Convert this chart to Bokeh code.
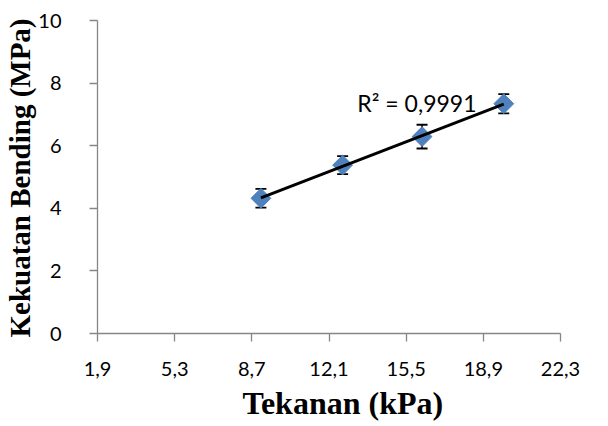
import numpy as np
from bokeh.plotting import figure
from bokeh.models import FixedTicker, Range1d, Whisker, ColumnDataSource, Label, Title
from bokeh.embed import file_html
from bokeh.resources import INLINE

# Measured bending strength vs. pressure
tekanan = [9.1, 12.7, 16.2, 19.8]          # kPa
kekuatan = [4.32, 5.38, 6.29, 7.34]        # MPa
galat = [0.30, 0.29, 0.38, 0.31]           # error bar half-width, MPa

x_ticks = [1.9, 5.3, 8.7, 12.1, 15.5, 18.9, 22.3]
x_tick_labels = ["1,9", "5,3", "8,7", "12,1", "15,5", "18,9", "22,3"]
y_ticks = [0, 2, 4, 6, 8, 10]
r2_label = "R² = 0,9991"
x_title = "Tekanan (kPa)"
y_title = "Kekuatan Bending (MPa)"

p = figure(width=608, height=426, output_backend="svg", toolbar_location=None,
           x_range=Range1d(1.9, 22.3), y_range=Range1d(0, 10),
           min_border_left=97, min_border_right=48, min_border_top=20,
           min_border_bottom=93)
p.outline_line_color = None
p.xgrid.visible = False
p.ygrid.visible = False

tick_font = "Lato"
title_font = "Liberation Serif"
for ax in (p.xaxis[0], p.yaxis[0]):
    ax.axis_line_color = "#868686"
    ax.axis_line_width = 1.3
    ax.major_tick_line_color = "#868686"
    ax.major_tick_line_width = 1.3
    ax.minor_tick_line_color = None
    ax.major_tick_in = 0
    ax.major_tick_out = 8
    ax.major_label_text_font = tick_font
    ax.major_label_text_font_size = "20px"
    ax.major_label_text_color = "black"

p.xaxis.ticker = FixedTicker(ticks=x_ticks)
p.xaxis.major_label_overrides = {t: s for t, s in zip(x_ticks, x_tick_labels)}
p.xaxis.major_label_standoff = 20

p.yaxis.ticker = FixedTicker(ticks=y_ticks)
p.yaxis.major_label_standoff = 28

# Axis titles as side titles, so they can be placed freely along the frame
yt = Title(text=y_title, align="left", offset=-4, standoff=0,
           text_font=title_font, text_font_style="bold",
           text_font_size="29px", text_color="black")
p.add_layout(yt, "left")

xt = Title(text=x_title, align="left", offset=145, standoff=9,
           text_font=title_font, text_font_style="bold",
           text_font_size="32px", text_color="black")
p.add_layout(xt, "below")

# Error bars
src = ColumnDataSource(dict(
    x=tekanan,
    y=kekuatan,
    lo=[v - e for v, e in zip(kekuatan, galat)],
    hi=[v + e for v, e in zip(kekuatan, galat)],
))
wh = Whisker(base="x", lower="lo", upper="hi", source=src,
             line_color="black", line_width=1.5)
for head in (wh.upper_head, wh.lower_head):
    head.size = 11
    head.line_width = 1.8
    head.line_color = "black"
p.add_layout(wh)

# Data markers (diamonds)
p.scatter("x", "y", source=src, marker="square", angle=np.pi / 4, size=14,
          fill_color="#4F81BD", line_color="#4F81BD")

# Linear trendline over the measured range
m, b = np.polyfit(tekanan, kekuatan, 1)
xs = np.array([min(tekanan), max(tekanan)])
p.line(xs, m * xs + b, line_color="black", line_width=3)

p.add_layout(Label(x=13.35, y=7.37, text=r2_label, text_font=tick_font,
                   text_font_size="23px", text_color="black",
                   text_baseline="middle", text_align="left"))

open("out.html", "w").write(file_html(p, INLINE))
